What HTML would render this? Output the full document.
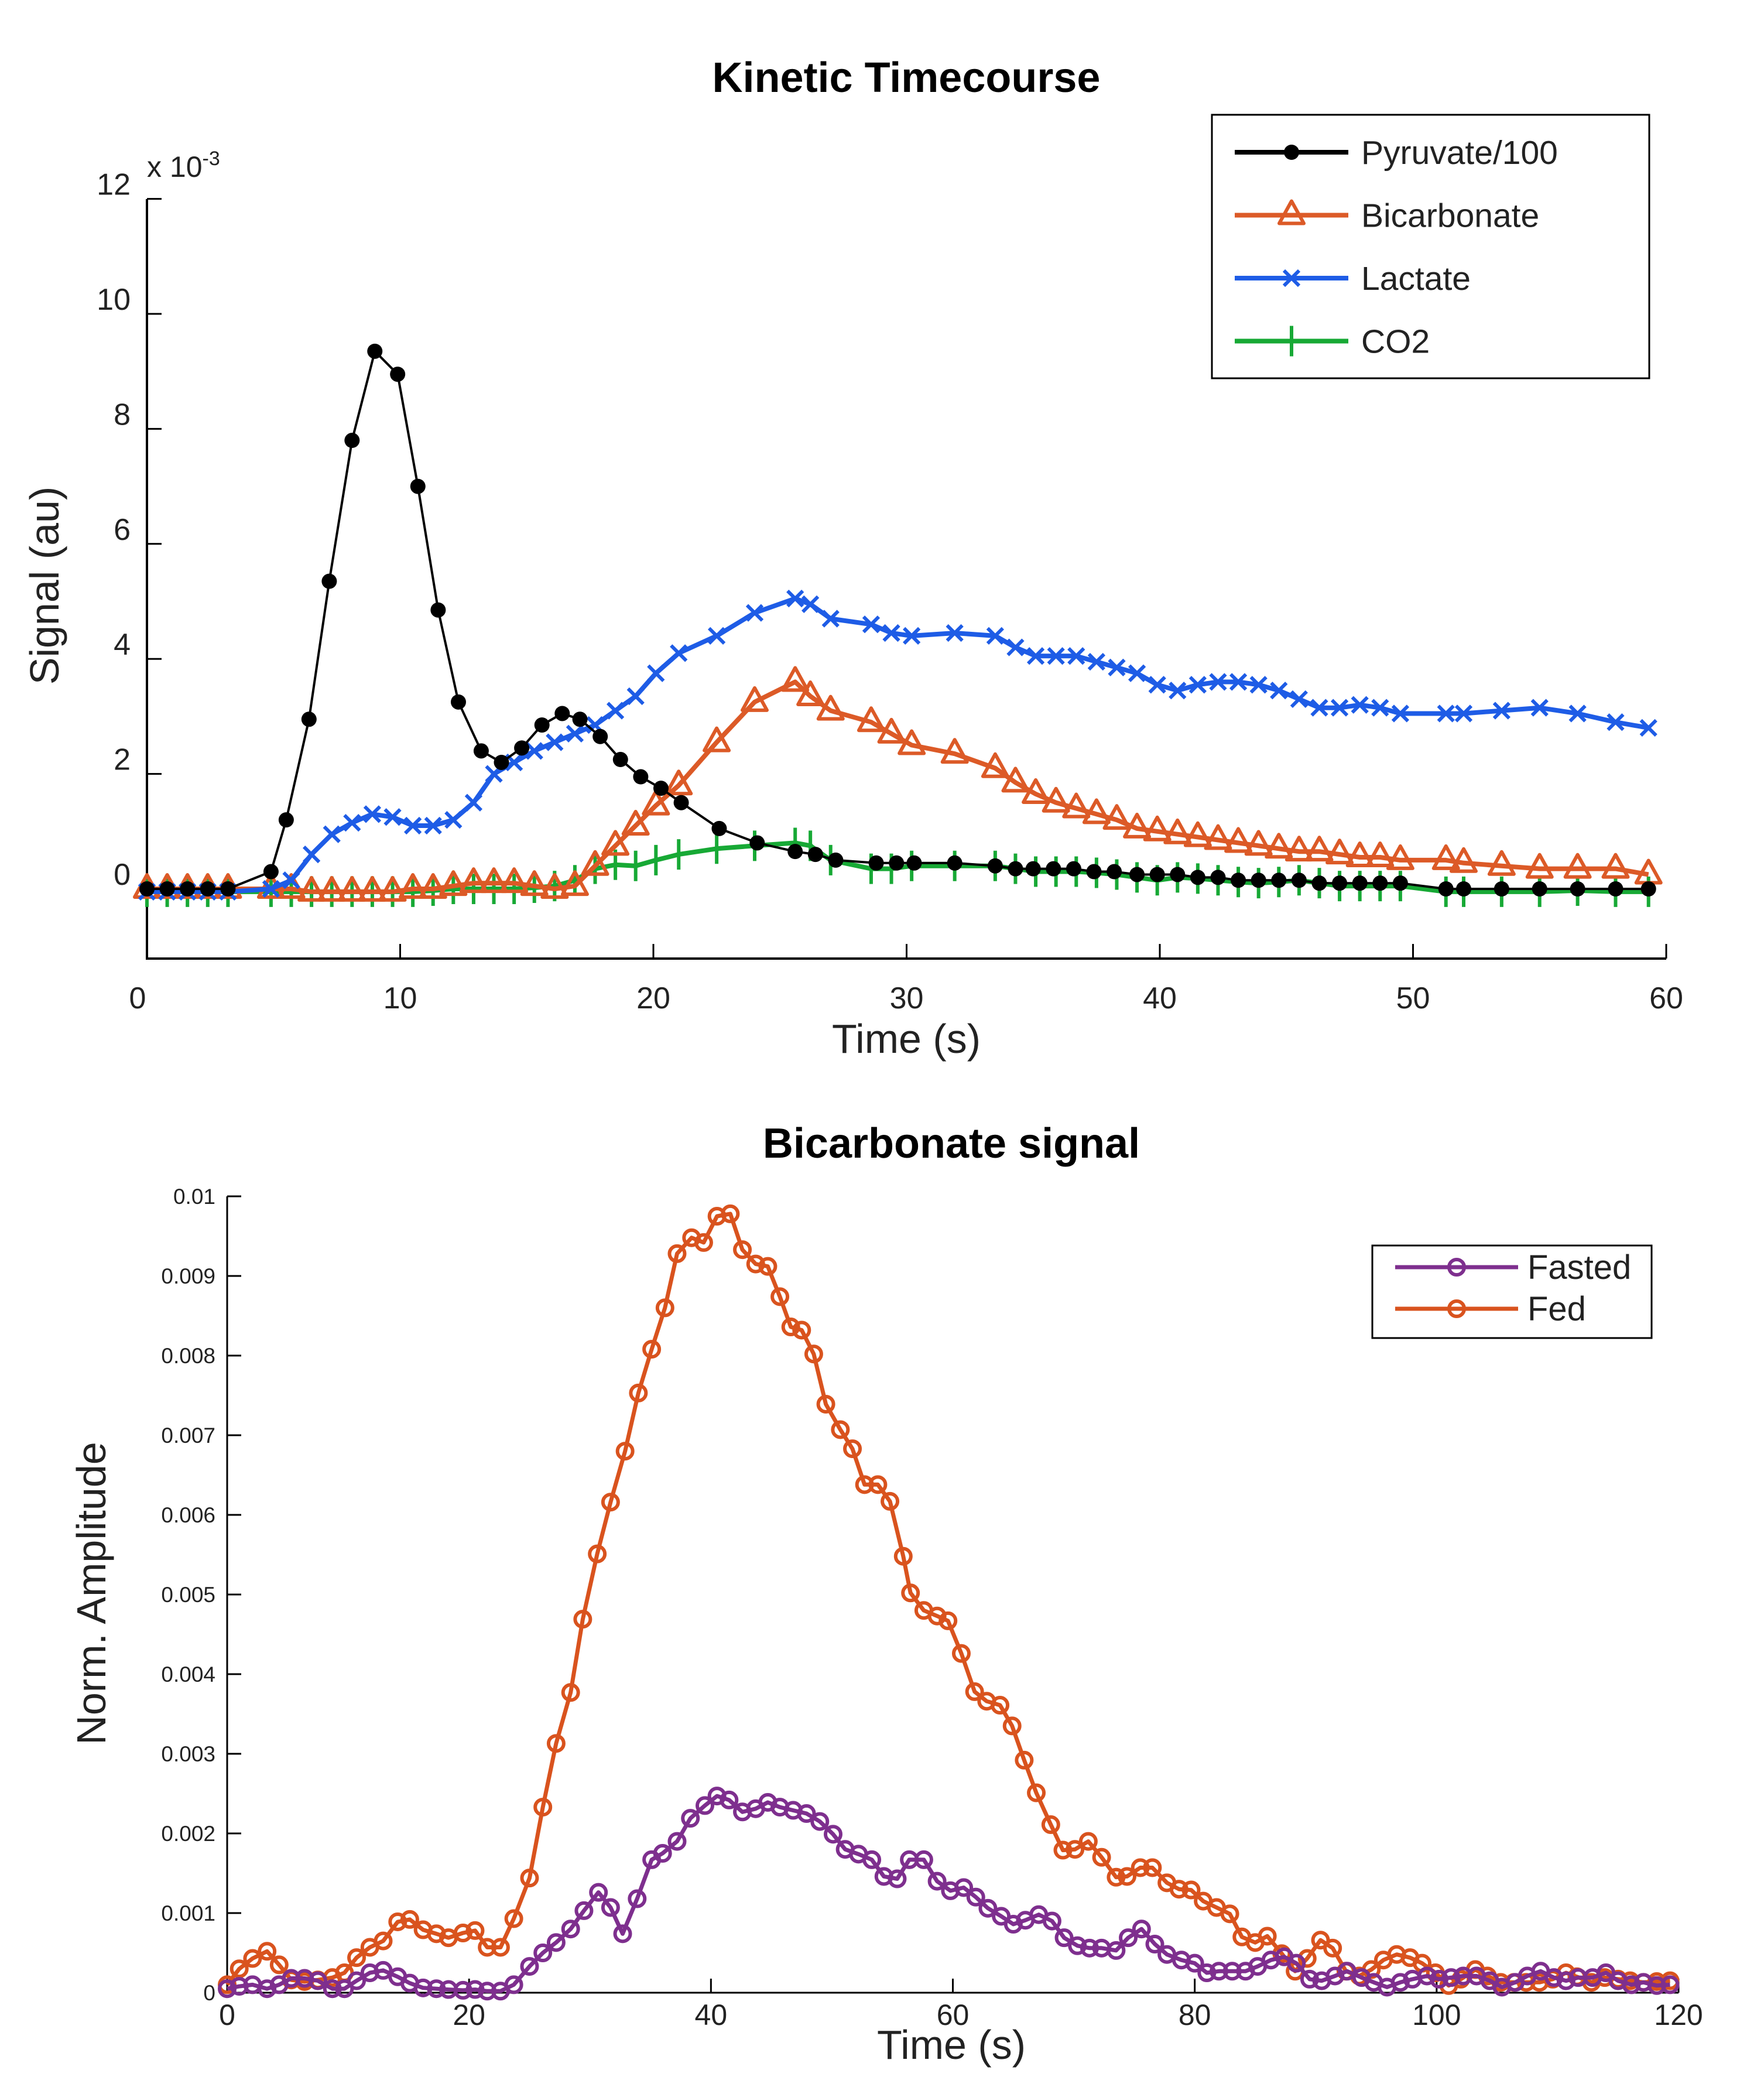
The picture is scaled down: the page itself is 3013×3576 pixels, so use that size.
<!DOCTYPE html>
<html><head><meta charset="utf-8"><style>
html,body{margin:0;padding:0;background:#fff;}
svg{display:block;font-family:"Liberation Sans",sans-serif;}
</style></head><body>
<svg id="fig" width="3013" height="3576" viewBox="0 0 3013 3576" xmlns="http://www.w3.org/2000/svg">
<rect width="3013" height="3576" fill="#fff"/>
<g id="topChart"></g>
<g id="botChart"></g>
</svg>
<script>
// ---- Top chart data (signal in 1e-3 au) ----
const pyrT=[0,0.8,1.6,2.4,3.2,4.9,5.5,6.4,7.2,8.1,9.0,9.9,10.7,11.5,12.3,13.2,14.0,14.8,15.6,16.4,17.1,17.9,18.7,19.5,20.3,21.1,22.6,24.1,25.6,26.4,27.2,28.8,29.6,30.3,31.9,33.5,34.3,35.0,35.8,36.6,37.4,38.2,39.1,39.9,40.7,41.5,42.3,43.1,43.9,44.7,45.5,46.3,47.1,47.9,48.7,49.5,51.3,52.0,53.5,55.0,56.5,58.0,59.3];
const pyrV=[0,0,0,0,0,0.3,1.2,2.95,5.35,7.8,9.35,8.95,7.0,4.85,3.25,2.4,2.2,2.45,2.85,3.05,2.95,2.65,2.25,1.95,1.75,1.5,1.05,0.8,0.65,0.6,0.5,0.45,0.45,0.45,0.45,0.4,0.35,0.35,0.35,0.35,0.3,0.3,0.25,0.25,0.25,0.2,0.2,0.15,0.15,0.15,0.15,0.1,0.1,0.1,0.1,0.1,0,0,0,0,0,0,0];
const sT=[0,0.8,1.6,2.4,3.2,4.9,5.7,6.5,7.3,8.1,8.9,9.7,10.5,11.3,12.1,12.9,13.7,14.5,15.3,16.1,16.9,17.7,18.5,19.3,20.1,21.0,22.5,24.0,25.6,26.2,27.0,28.6,29.4,30.2,31.9,33.5,34.3,35.1,35.9,36.7,37.5,38.3,39.1,39.9,40.7,41.5,42.3,43.1,43.9,44.7,45.5,46.3,47.1,47.9,48.7,49.5,51.3,52.0,53.5,55.0,56.5,58.0,59.3];
const lacV=[-0.05,-0.05,-0.05,-0.05,-0.05,0,0.15,0.6,0.95,1.15,1.3,1.25,1.1,1.1,1.2,1.5,2.0,2.2,2.4,2.55,2.7,2.85,3.1,3.35,3.75,4.1,4.4,4.8,5.05,4.95,4.7,4.6,4.45,4.4,4.45,4.4,4.2,4.05,4.05,4.05,3.95,3.85,3.75,3.55,3.45,3.55,3.6,3.6,3.55,3.45,3.3,3.15,3.15,3.2,3.15,3.05,3.05,3.05,3.1,3.15,3.05,2.9,2.8];
const bicV=[0,0,0,0,0,0,0,-0.05,-0.05,-0.05,-0.05,-0.05,0,0,0.05,0.1,0.1,0.1,0.05,0,0.05,0.4,0.75,1.1,1.45,1.8,2.55,3.25,3.6,3.35,3.1,2.9,2.7,2.5,2.35,2.1,1.85,1.65,1.5,1.4,1.3,1.2,1.05,1.0,0.95,0.9,0.85,0.8,0.75,0.7,0.65,0.65,0.6,0.55,0.55,0.5,0.5,0.45,0.4,0.35,0.35,0.35,0.25];
const co2V=[-0.05,-0.05,-0.05,-0.05,-0.05,-0.05,-0.05,-0.05,-0.05,-0.05,-0.05,-0.05,-0.05,-0.03,0,0,0,0,0.02,0.05,0.15,0.35,0.42,0.4,0.5,0.6,0.7,0.75,0.8,0.75,0.5,0.35,0.35,0.4,0.4,0.4,0.35,0.3,0.3,0.3,0.28,0.25,0.2,0.15,0.2,0.18,0.15,0.12,0.1,0.12,0.15,0.1,0.05,0.05,0.05,0.05,-0.05,-0.05,-0.05,-0.05,-0.03,-0.05,-0.05];
const topXTicks=[0,10,20,30,40,50,60];
const topYTicks=[0,2,4,6,8,10,12];
// ---- Bottom chart data (x 0.001) ----
const fedT=[0,1.0,2.1,3.3,4.3,5.3,6.4,7.5,8.7,9.7,10.7,11.8,12.9,14.1,15.1,16.2,17.3,18.3,19.5,20.5,21.5,22.6,23.7,25.0,26.1,27.2,28.4,29.4,30.6,31.7,32.9,34.0,35.1,36.2,37.2,38.4,39.4,40.5,41.6,42.6,43.7,44.7,45.7,46.6,47.5,48.5,49.5,50.7,51.7,52.7,53.8,54.8,55.9,56.5,57.6,58.7,59.6,60.7,61.8,62.8,63.9,64.9,65.9,66.9,68.1,69.1,70.1,71.2,72.3,73.5,74.4,75.5,76.5,77.7,78.7,79.7,80.7,81.8,82.9,83.9,85.0,86.0,87.2,88.3,89.3,90.4,91.4,92.5,93.6,94.6,95.6,96.7,97.8,98.8,99.9,101.0,102.0,103.2,104.2,105.3,106.4,107.4,108.5,109.6,110.7,111.6,112.8,113.9,115.0,116.0,117.1,118.2,119.3];
const fedV=[0.1,0.3,0.43,0.52,0.35,0.16,0.14,0.16,0.19,0.25,0.44,0.57,0.65,0.89,0.92,0.79,0.74,0.69,0.75,0.78,0.57,0.57,0.93,1.44,2.33,3.13,3.77,4.69,5.51,6.16,6.8,7.53,8.08,8.6,9.28,9.48,9.42,9.75,9.78,9.33,9.15,9.12,8.74,8.36,8.32,8.02,7.39,7.07,6.83,6.38,6.38,6.17,5.48,5.02,4.8,4.73,4.67,4.26,3.78,3.66,3.61,3.35,2.92,2.51,2.11,1.79,1.8,1.9,1.7,1.45,1.46,1.57,1.57,1.38,1.3,1.29,1.15,1.07,0.99,0.7,0.63,0.71,0.49,0.27,0.43,0.66,0.56,0.27,0.21,0.29,0.41,0.48,0.44,0.37,0.25,0.09,0.17,0.29,0.21,0.13,0.13,0.13,0.13,0.17,0.25,0.2,0.13,0.19,0.17,0.15,0.13,0.14,0.15];
const fasT=[0,1.0,2.1,3.3,4.3,5.3,6.4,7.5,8.7,9.7,10.7,11.8,12.9,14.1,15.1,16.2,17.3,18.3,19.5,20.5,21.5,22.6,23.7,25.0,26.1,27.2,28.4,29.5,30.7,31.7,32.7,33.9,35.1,36.0,37.2,38.3,39.5,40.5,41.5,42.6,43.7,44.7,45.7,46.8,47.9,49.0,50.1,51.1,52.2,53.3,54.3,55.4,56.4,57.6,58.7,59.8,60.9,61.9,62.9,64.0,65.0,66.0,67.1,68.2,69.2,70.3,71.3,72.3,73.5,74.5,75.6,76.7,77.7,78.9,80.0,81.0,82.0,83.1,84.2,85.2,86.3,87.4,88.4,89.5,90.5,91.6,92.6,93.8,94.8,95.9,97.0,98.0,99.2,100.2,101.2,102.2,103.3,104.4,105.4,106.5,107.5,108.6,109.7,110.7,111.7,112.9,114.0,115.0,116.1,117.1,118.2,119.3];
const fasV=[0.05,0.08,0.1,0.05,0.1,0.18,0.18,0.15,0.05,0.05,0.15,0.25,0.28,0.2,0.12,0.06,0.05,0.04,0.03,0.04,0.02,0.02,0.1,0.33,0.5,0.63,0.8,1.03,1.26,1.07,0.74,1.18,1.67,1.75,1.9,2.19,2.35,2.47,2.42,2.27,2.31,2.39,2.33,2.29,2.25,2.15,1.99,1.8,1.74,1.67,1.46,1.43,1.67,1.67,1.4,1.28,1.32,1.2,1.06,0.96,0.86,0.91,0.98,0.9,0.69,0.59,0.56,0.56,0.53,0.69,0.8,0.61,0.48,0.41,0.37,0.25,0.27,0.27,0.27,0.33,0.41,0.45,0.37,0.17,0.15,0.21,0.27,0.19,0.13,0.07,0.13,0.17,0.21,0.17,0.19,0.21,0.21,0.15,0.07,0.13,0.21,0.27,0.19,0.15,0.19,0.19,0.25,0.15,0.1,0.13,0.09,0.1,0.21];
const botXTicks=[0,20,40,60,80,100,120];
const botYTicks=[0,1,2,3,4,5,6,7,8,9,10];
const botYLabels=["0","0.001","0.002","0.003","0.004","0.005","0.006","0.007","0.008","0.009","0.01"];

const NS="http://www.w3.org/2000/svg";
function mk(parent,tag,attrs,text){const el=document.createElementNS(NS,tag);for(const k in attrs)el.setAttribute(k,attrs[k]);if(text!==undefined)el.textContent=text;parent.appendChild(el);return el;}

// ---------- TOP ----------
const gTop=document.getElementById('topChart');
const tx=t=>251+t*(2846-251)/60;
const ty=v=>1518-v*98.2;
let e;
e=mk(gTop,'text',{x:1548,y:157,'font-size':72,'font-weight':'bold','text-anchor':'middle',fill:'#000'},'Kinetic Timecourse');


e=mk(gTop,'path',{d:`M251,340 V1637 H2846`,fill:'none',stroke:'#000','stroke-width':4});


topYTicks.forEach(v=>{
  e=mk(gTop,'line',{x1:251,x2:276,y1:ty(v),y2:ty(v),stroke:'#000','stroke-width':3});
  
  
  e=mk(gTop,'text',{x:223,y:ty(v)-7,'font-size':52,'text-anchor':'end',fill:'#222'},String(v));
  
  
});
topXTicks.forEach(v=>{
  e=mk(gTop,'line',{x1:tx(v),x2:tx(v),y1:1637,y2:1612,stroke:'#000','stroke-width':3});
  
  
  e=mk(gTop,'text',{x:v===0?tx(v)-16:tx(v),y:1722,'font-size':52,'text-anchor':'middle',fill:'#222'},String(v));
  
  
});
e=mk(gTop,'text',{x:251,y:302,'font-size':50,fill:'#222'},'x 10');


mk(e,'tspan',{dy:-20,'font-size':34},'-3');
e=mk(gTop,'text',{x:1548,y:1798,'font-size':70,'text-anchor':'middle',fill:'#222'},'Time (s)');


e=mk(gTop,'text',{x:100,y:1000,'font-size':70,'text-anchor':'middle',fill:'#222',transform:'rotate(-90 100 1000)'},'Signal (au)');



function poly(g,T,V,fx,fy,color,w,name){
  const d=T.map((t,i)=>(i?'L':'M')+fx(t).toFixed(1)+','+fy(V[i]).toFixed(1)).join('');
  const p=mk(g,'path',{d:d,fill:'none',stroke:color,'stroke-width':w,'stroke-linejoin':'round'});
  
  
}
function marker(g,type,x,y,color,name){
  let m;
  if(type==='dot') m=mk(g,'circle',{cx:x,cy:y,r:13,fill:color});
  else if(type==='tri') m=mk(g,'path',{d:`M${x},${y-24}L${x+21},${y+14}L${x-21},${y+14}Z`,fill:'none',stroke:color,'stroke-width':6,'stroke-linejoin':'round'});
  else if(type==='x') m=mk(g,'path',{d:`M${x-13},${y-13}L${x+13},${y+13}M${x-13},${y+13}L${x+13},${y-13}`,stroke:color,'stroke-width':6});
  else if(type==='plus') m=mk(g,'path',{d:`M${x},${y-26}V${y+26}M${x-4},${y}H${x+4}`,stroke:color,'stroke-width':6});
  else m=mk(g,'circle',{cx:x,cy:y,r:13,fill:'none',stroke:color,'stroke-width':6});
  
  
}
const series=[
  {T:sT,V:co2V,c:'#17A935',w:8,m:'plus',n:'co2'},
  {T:sT,V:bicV,c:'#DC5A27',w:8,m:'tri',n:'bicarbonate'},
  {T:sT,V:lacV,c:'#1E5CE6',w:8,m:'x',n:'lactate'},
  {T:pyrT,V:pyrV,c:'#000',w:4,m:'dot',n:'pyruvate'}
];
series.forEach(s=>{
  poly(gTop,s.T,s.V,tx,ty,s.c,s.w,s.n+'-line');
  s.T.forEach((t,i)=>marker(gTop,s.m,tx(t),ty(s.V[i]),s.c,s.n+'-point'));
});
// top legend
e=mk(gTop,'rect',{x:2070,y:196,width:747,height:450,fill:'#fff',stroke:'#000','stroke-width':3});


const legTop=[['Pyruvate/100','#000','dot',8],['Bicarbonate','#DC5A27','tri',8],['Lactate','#1E5CE6','x',8],['CO2','#17A935','plus',8]];
legTop.forEach((L,i)=>{
  const y=260+i*107.5;
  e=mk(gTop,'line',{x1:2109,x2:2303,y1:y,y2:y,stroke:L[1],'stroke-width':L[3]});
  
  
  marker(gTop,L[2],2206,y,L[1],'legend-marker');
  e=mk(gTop,'text',{x:2325,y:y+20,'font-size':57,fill:'#222'},L[0]);
  
  
});

// ---------- BOTTOM ----------
const gBot=document.getElementById('botChart');
const bx=t=>388+t*(2867-388)/120;
const by=v=>3403-v*136;
e=mk(gBot,'text',{x:1625,y:1977,'font-size':72,'font-weight':'bold','text-anchor':'middle',fill:'#000'},'Bicarbonate signal');


e=mk(gBot,'path',{d:`M388,2043 V3403 H2867`,fill:'none',stroke:'#000','stroke-width':3});


botYTicks.forEach((v,i)=>{
  e=mk(gBot,'line',{x1:388,x2:412,y1:by(v),y2:by(v),stroke:'#000','stroke-width':3});
  
  
  e=mk(gBot,'text',{x:368,y:by(v)+13,'font-size':37,'text-anchor':'end',fill:'#222'},botYLabels[i]);
  
  
});
botXTicks.forEach(v=>{
  e=mk(gBot,'line',{x1:bx(v),x2:bx(v),y1:3403,y2:3379,stroke:'#000','stroke-width':3});
  
  
  e=mk(gBot,'text',{x:bx(v),y:3458,'font-size':50,'text-anchor':'middle',fill:'#222'},String(v));
  
  
});
e=mk(gBot,'text',{x:1625,y:3516,'font-size':70,'text-anchor':'middle',fill:'#222'},'Time (s)');


e=mk(gBot,'text',{x:180,y:2721,'font-size':70,'text-anchor':'middle',fill:'#222',transform:'rotate(-90 180 2721)'},'Norm. Amplitude');


poly(gBot,fedT,fedV,bx,by,'#D9531E',7,'fed-line');
fedT.forEach((t,i)=>marker(gBot,'o',bx(t),by(fedV[i]),'#D9531E','fed-point'));
poly(gBot,fasT,fasV,bx,by,'#7E2F8E',7,'fasted-line');
fasT.forEach((t,i)=>marker(gBot,'o',bx(t),by(fasV[i]),'#7E2F8E','fasted-point'));
e=mk(gBot,'rect',{x:2344,y:2127,width:477,height:158,fill:'#fff',stroke:'#000','stroke-width':3});


[['Fasted','#7E2F8E'],['Fed','#D9531E']].forEach((L,i)=>{
  const y=2164+i*71;
  e=mk(gBot,'line',{x1:2383,x2:2593,y1:y,y2:y,stroke:L[1],'stroke-width':7});
  
  
  marker(gBot,'o',2488,y,L[1],'legend-marker');
  e=mk(gBot,'text',{x:2609,y:y+20,'font-size':58,fill:'#222'},L[0]);
  
  
});
</script>
</body></html>
